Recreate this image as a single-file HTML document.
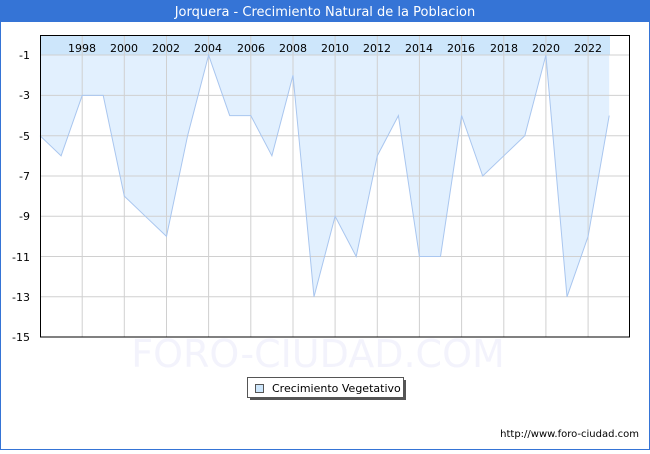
<!DOCTYPE html>
<html><head><style>
body{margin:0;width:650px;height:450px;overflow:hidden;font-family:"DejaVu Sans","Liberation Sans",sans-serif;}
</style></head><body>
<svg width="650" height="450" xmlns="http://www.w3.org/2000/svg" font-family="DejaVu Sans, Liberation Sans, sans-serif">
<rect x="0" y="0" width="650" height="450" fill="#3574d6"/>
<rect x="1" y="22" width="648" height="427" fill="#fff"/>
<text x="325" y="16" fill="#fff" font-size="13" text-anchor="middle">Jorquera - Crecimiento Natural de la Poblacion</text>
<text x="318" y="367" fill="#f3f3fc" font-size="38" text-anchor="middle">FORO-CIUDAD.COM</text>
<rect x="40" y="35" width="590" height="302" fill="#fff"/>
<rect x="40" y="35" width="570" height="20" fill="#cde6fb"/>
<polygon fill="#e2f0fe" stroke="none" points="40,55 40,135.7 61.1,155.8 82.2,95.4 103.2,95.4 124.3,196.1 145.4,216.3 166.5,236.4 187.6,135.7 208.6,55.1 229.7,115.6 250.8,115.6 271.9,155.8 293,75.3 314,296.8 335.1,216.3 356.2,256.5 377.3,155.8 398.4,115.6 419.4,256.5 440.5,256.5 461.6,115.6 482.7,176 503.8,155.8 524.8,135.7 545.9,55.1 567,296.8 588.1,236.4 609.2,115.6 609.2,55"/>
<g stroke="#d0d0d0" stroke-width="1">
<line x1="40" y1="55" x2="630" y2="55"/><line x1="40" y1="95.4" x2="630" y2="95.4"/><line x1="40" y1="135.7" x2="630" y2="135.7"/><line x1="40" y1="176" x2="630" y2="176"/><line x1="40" y1="216.3" x2="630" y2="216.3"/><line x1="40" y1="256.5" x2="630" y2="256.5"/><line x1="40" y1="296.8" x2="630" y2="296.8"/>
<line x1="82.2" y1="35" x2="82.2" y2="337"/><line x1="124.3" y1="35" x2="124.3" y2="337"/><line x1="166.5" y1="35" x2="166.5" y2="337"/><line x1="208.6" y1="35" x2="208.6" y2="337"/><line x1="250.8" y1="35" x2="250.8" y2="337"/><line x1="293" y1="35" x2="293" y2="337"/><line x1="335.1" y1="35" x2="335.1" y2="337"/><line x1="377.3" y1="35" x2="377.3" y2="337"/><line x1="419.4" y1="35" x2="419.4" y2="337"/><line x1="461.6" y1="35" x2="461.6" y2="337"/><line x1="503.8" y1="35" x2="503.8" y2="337"/><line x1="545.9" y1="35" x2="545.9" y2="337"/><line x1="588.1" y1="35" x2="588.1" y2="337"/>
</g>
<polyline fill="none" stroke="#a9c6ef" stroke-width="1" points="40,135.7 61.1,155.8 82.2,95.4 103.2,95.4 124.3,196.1 145.4,216.3 166.5,236.4 187.6,135.7 208.6,55.1 229.7,115.6 250.8,115.6 271.9,155.8 293,75.3 314,296.8 335.1,216.3 356.2,256.5 377.3,155.8 398.4,115.6 419.4,256.5 440.5,256.5 461.6,115.6 482.7,176 503.8,155.8 524.8,135.7 545.9,55.1 567,296.8 588.1,236.4 609.2,115.6"/>
<rect x="40.5" y="35.5" width="589" height="301.5" fill="none" stroke="#000" stroke-width="1"/>
<g font-size="11" fill="#000" text-anchor="middle">
<text x="82" y="52">1998</text><text x="124" y="52">2000</text><text x="166" y="52">2002</text><text x="208" y="52">2004</text><text x="251" y="52">2006</text><text x="293" y="52">2008</text><text x="335" y="52">2010</text><text x="377" y="52">2012</text><text x="419" y="52">2014</text><text x="461" y="52">2016</text><text x="504" y="52">2018</text><text x="546" y="52">2020</text><text x="588" y="52">2022</text>
</g>
<g font-size="11" fill="#000" text-anchor="end">
<text x="30" y="59">-1</text><text x="30" y="99">-3</text><text x="30" y="140">-5</text><text x="30" y="180">-7</text><text x="30" y="220">-9</text><text x="30" y="261">-11</text><text x="30" y="301">-13</text><text x="30" y="341">-15</text>
</g>
<rect x="250" y="380" width="156" height="20" fill="#555"/>
<rect x="247.5" y="377.5" width="156" height="20" fill="#fff" stroke="#555"/>
<rect x="255.5" y="384.5" width="8" height="8" fill="#cde6fb" stroke="#555"/>
<text x="272" y="392" font-size="11" fill="#000">Crecimiento Vegetativo</text>
<text x="639" y="437" font-size="10" fill="#000" text-anchor="end">http://www.foro-ciudad.com</text>
</svg>
</body></html>
